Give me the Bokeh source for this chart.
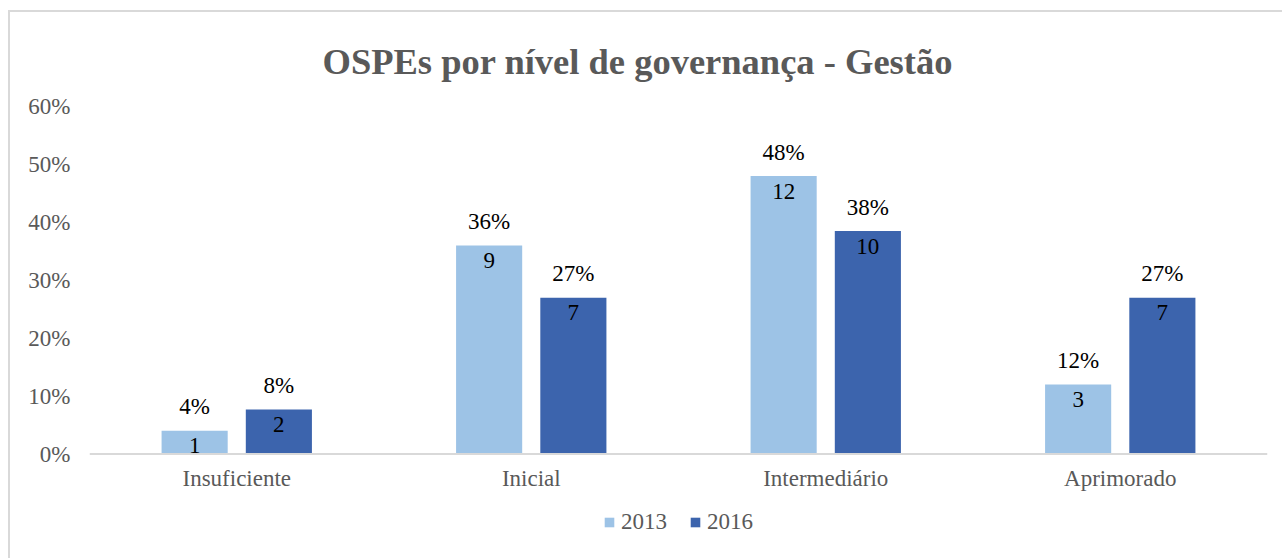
from bokeh.plotting import figure
from bokeh.models import ColumnDataSource, FactorRange, Range1d, Title, Legend, LegendItem, NumeralTickFormatter, Span
from bokeh.transform import dodge
from bokeh.core.properties import value
from bokeh.embed import file_html
from bokeh.resources import INLINE

categories = ["Insuficiente", "Inicial", "Intermediário", "Aprimorado"]
share_2013 = [0.04, 0.36, 0.48, 0.12]
share_2016 = [0.077, 0.27, 0.385, 0.27]
count_2013 = ["1", "9", "12", "3"]
count_2016 = ["2", "7", "10", "7"]
pct_2013 = ["4%", "36%", "48%", "12%"]
pct_2016 = ["8%", "27%", "38%", "27%"]
y_ticks = [0, 0.1, 0.2, 0.3, 0.4, 0.5, 0.6]

FONT = "Liberation Serif"
C13 = "#9DC3E6"
C16 = "#3C64AD"
GRAY = "#595959"

src = ColumnDataSource(dict(cat=categories, v13=share_2013, v16=share_2016,
                            n13=count_2013, n16=count_2016,
                            p13=pct_2013, p16=pct_2016,
                            base=[0] * len(categories)))

p = figure(width=1274, height=548, output_backend="svg", toolbar_location=None,
           x_range=FactorRange(factors=categories, range_padding=0),
           y_range=Range1d(-0.1838, 0.6), title=None, x_axis_location=None,
           min_border_left=79, min_border_right=17, min_border_top=94, min_border_bottom=0)
p.styles = {"margin-left": "8px", "margin-top": "10px",
            "border-left": "2px solid #D9D9D9", "border-top": "2px solid #D9D9D9",
            "box-sizing": "border-box"}
p.outline_line_color = None
p.background_fill_color = "white"
p.border_fill_color = "white"

off = 0.143
w = 0.2245
r13 = p.vbar(x=dodge("cat", -off, range=p.x_range), top="v13", width=w, source=src,
             fill_color=C13, line_color=None)
r16 = p.vbar(x=dodge("cat", off, range=p.x_range), top="v16", width=w, source=src,
             fill_color=C16, line_color=None)

# category axis line at 0
p.add_layout(Span(location=0, dimension="width", line_color="#D9D9D9", line_width=2))

common = dict(source=src, text_font=value(FONT), text_font_size="23px", text_color="black",
              text_align="center", text_baseline="middle")
p.text(x=dodge("cat", -off, range=p.x_range), y="v13", text="p13", y_offset=-24, **common)
p.text(x=dodge("cat", off, range=p.x_range), y="v16", text="p16", y_offset=-24, **common)
p.text(x=dodge("cat", -off, range=p.x_range), y="v13", text="n13", y_offset=15, **common)
p.text(x=dodge("cat", off, range=p.x_range), y="v16", text="n16", y_offset=15, **common)

# category labels
p.text(x="cat", y="base", text="cat", source=src, text_font=value(FONT), text_font_size="23px",
       text_color=GRAY, text_align="center", text_baseline="middle", y_offset=24)

p.xgrid.grid_line_color = None
p.ygrid.grid_line_color = None

p.yaxis.ticker = y_ticks
p.yaxis.formatter = NumeralTickFormatter(format="0%")
p.yaxis.axis_line_color = None
p.yaxis.major_tick_line_color = None
p.yaxis.minor_tick_line_color = None
p.yaxis.major_tick_out = 0
p.yaxis.major_tick_in = 0
p.yaxis.major_label_standoff = 19
p.yaxis.major_label_text_font = FONT
p.yaxis.major_label_text_font_size = "23px"
p.yaxis.major_label_text_color = GRAY

title = Title(text="OSPEs por nível de governança - Gestão", align="left", offset=233,
              text_font=FONT, text_font_size="36.5px", text_font_style="bold",
              text_color=GRAY, standoff=50)
p.add_layout(title, "above")

legend = Legend(items=[LegendItem(label="2013", renderers=[r13]),
                       LegendItem(label="2016", renderers=[r16])],
                orientation="horizontal", location="bottom_center",
                label_text_font=FONT, label_text_font_size="23px", label_text_color=GRAY,
                glyph_width=12, glyph_height=12, label_standoff=6, spacing=22,
                padding=4, margin=25, border_line_color=None, background_fill_alpha=0)
p.add_layout(legend, "center")

open("out.html", "w").write(file_html(p, INLINE))
